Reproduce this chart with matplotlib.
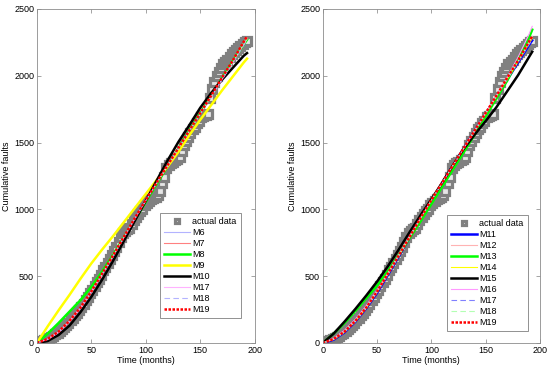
import matplotlib
matplotlib.use("Agg")
import matplotlib.pyplot as plt

plt.rcParams['font.family'] = ['Liberation Sans', 'DejaVu Sans']
plt.rcParams['font.size'] = 6.5

# observed cumulative faults (odd months 1..193)
months = list(range(1, 194, 2))
actual = [3, 8, 14, 20, 27, 35, 45, 55, 66, 78,
          92, 105, 120, 135, 152, 170, 188, 208, 228, 250,
          272, 295, 320, 345, 372, 400, 428, 455, 482, 510,
          545, 572, 600, 630, 660, 690, 722, 755, 790, 820,
          840, 850, 860, 890, 920, 945, 965, 985, 1005, 1030,
          1045, 1060, 1075, 1085, 1095, 1105, 1140, 1200, 1240, 1310,
          1330, 1345, 1355, 1370, 1380, 1395, 1440, 1480, 1510, 1545,
          1570, 1600, 1620, 1645, 1665, 1690, 1700, 1705, 1712, 1830,
          1900, 1950, 2000, 2030, 2060, 2085, 2100, 2120, 2140, 2160,
          2175, 2190, 2205, 2220, 2235, 2250, 2262]

# model curves sampled every 10 months (+ last month)
t_fit = [0, 10, 20, 30, 40, 50, 60, 70, 80, 90, 100, 110, 120, 130, 140, 150, 160, 170, 180, 190, 193]

m6  = [0, 28, 82, 162, 262, 382, 517, 652, 792, 932, 1067, 1197, 1327, 1457, 1587, 1715, 1845, 1975, 2105, 2240, 2280]
m7  = [0, 29, 84, 164, 264, 384, 519, 654, 794, 934, 1069, 1199, 1329, 1459, 1589, 1718, 1848, 1980, 2110, 2248, 2285]
m8  = [0, 70, 150, 235, 320, 420, 535, 660, 790, 920, 1055, 1190, 1320, 1455, 1590, 1720, 1850, 1980, 2110, 2235, 2270]
m9  = [0, 125, 245, 360, 480, 595, 700, 800, 905, 1010, 1115, 1220, 1320, 1430, 1555, 1670, 1780, 1890, 1995, 2100, 2128]
m10 = [0, 15, 60, 130, 230, 345, 475, 615, 765, 915, 1065, 1215, 1365, 1505, 1630, 1760, 1870, 1970, 2060, 2150, 2170]
m17 = [0, 27, 80, 160, 260, 380, 515, 650, 790, 930, 1065, 1195, 1325, 1455, 1585, 1713, 1842, 1972, 2100, 2235, 2275]
m18 = [0, 26, 79, 159, 259, 379, 514, 649, 789, 929, 1064, 1194, 1324, 1454, 1584, 1712, 1840, 1970, 2098, 2230, 2270]
m19 = [0, 30, 85, 165, 265, 385, 520, 655, 795, 935, 1070, 1200, 1330, 1460, 1590, 1720, 1850, 1985, 2115, 2255, 2295]

m11 = [0, 25, 80, 160, 260, 375, 510, 648, 788, 928, 1063, 1198, 1328, 1458, 1588, 1713, 1843, 1972, 2100, 2230, 2265]
m12 = [0, 30, 86, 166, 266, 386, 521, 656, 796, 936, 1071, 1201, 1331, 1461, 1591, 1721, 1852, 1988, 2120, 2258, 2295]
m13 = [0, 70, 150, 240, 335, 430, 540, 660, 785, 910, 1040, 1170, 1300, 1430, 1560, 1695, 1830, 1965, 2120, 2285, 2345]
m14 = [0, 27, 82, 162, 262, 380, 515, 652, 792, 932, 1067, 1200, 1330, 1460, 1590, 1716, 1846, 1976, 2106, 2240, 2280]
m15 = [0, 70, 160, 255, 355, 460, 575, 700, 830, 955, 1075, 1200, 1330, 1455, 1560, 1660, 1765, 1885, 2005, 2140, 2180]
m16 = [0, 35, 95, 178, 278, 395, 525, 660, 798, 935, 1068, 1198, 1328, 1458, 1588, 1718, 1850, 1990, 2140, 2310, 2370]
m17r = [0, 26, 80, 160, 260, 378, 512, 650, 790, 930, 1065, 1197, 1327, 1457, 1587, 1714, 1844, 1973, 2102, 2233, 2270]
m18r = [0, 28, 83, 163, 263, 382, 517, 652, 792, 932, 1067, 1199, 1329, 1459, 1589, 1717, 1847, 1978, 2108, 2243, 2282]
m19r = m19

fig = plt.figure(figsize=(5.5, 3.68), dpi=100)
ax1 = fig.add_axes([0.067, 0.068, 0.396, 0.9076])
ax2 = fig.add_axes([0.587, 0.068, 0.3945, 0.9076])


def draw_data(ax):
    ax.plot(months, actual, 's', ms=5.5, mfc='0.9', mec='0.5', mew=2.3,
            linestyle='none', label='actual data', zorder=1)


draw_data(ax1)
ax1.plot(t_fit, m6, color=(0.7, 0.7, 1.0), lw=0.8, label='M6')
ax1.plot(t_fit, m7, color=(1.0, 0.5, 0.5), lw=0.8, label='M7')
ax1.plot(t_fit, m8, color=(0.0, 1.0, 0.0), lw=1.8, label='M8')
ax1.plot(t_fit, m9, color=(1.0, 1.0, 0.0), lw=1.8, label='M9')
ax1.plot(t_fit, m10, color='black', lw=1.8, label='M10')
ax1.plot(t_fit, m17, color=(1.0, 0.7, 1.0), lw=0.8, label='M17')
ax1.plot(t_fit, m18, color=(0.7, 0.7, 1.0), lw=0.8, ls=(0, (5, 3)), label='M18')
ax1.plot(t_fit, m19, color='red', lw=1.8, ls=(0, (1, 0.6)), label='M19')

draw_data(ax2)
ax2.plot(t_fit, m11, color='blue', lw=1.8, label='M11')
ax2.plot(t_fit, m12, color=(1.0, 0.7, 0.7), lw=0.8, label='M12')
ax2.plot(t_fit, m13, color=(0.0, 1.0, 0.0), lw=1.8, label='M13')
ax2.plot(t_fit, m14, color=(1.0, 1.0, 0.0), lw=0.8, label='M14')
ax2.plot(t_fit, m15, color='black', lw=1.8, label='M15')
ax2.plot(t_fit, m16, color=(1.0, 0.6, 1.0), lw=0.8, label='M16')
ax2.plot(t_fit, m17r, color=(0.5, 0.5, 1.0), lw=0.8, ls=(0, (5, 3)), label='M17')
ax2.plot(t_fit, m18r, color=(0.7, 1.0, 0.7), lw=0.8, ls=(0, (5, 3)), label='M18')
ax2.plot(t_fit, m19r, color='red', lw=1.8, ls=(0, (1, 0.6)), label='M19')

for ax, anchor in ((ax1, (0.564, 0.075)), (ax2, (0.571, 0.036))):
    ax.set_xlim(0, 200)
    ax.set_ylim(0, 2500)
    ax.set_xticks([0, 50, 100, 150, 200])
    ax.set_yticks([0, 500, 1000, 1500, 2000, 2500])
    ax.tick_params(direction='in', length=3, width=0.5, top=True, right=True,
                   colors='0.5', labelcolor='black', labelsize=6.5, pad=2)
    for s in ax.spines.values():
        s.set_color('0.55')
        s.set_linewidth(0.6)
    ax.set_xlabel('Time (months)', labelpad=1)
    ax.set_ylabel('Cumulative faults', labelpad=2)
    leg = ax.legend(loc='lower left', bbox_to_anchor=anchor, fontsize=6.5,
                    fancybox=False, framealpha=1, edgecolor='0.5',
                    handlelength=2.9, labelspacing=0.22, borderpad=0.45,
                    handletextpad=0.25, borderaxespad=0, markerscale=0.6)
    leg.get_frame().set_linewidth(0.6)

fig.savefig('out.png', dpi=100)
